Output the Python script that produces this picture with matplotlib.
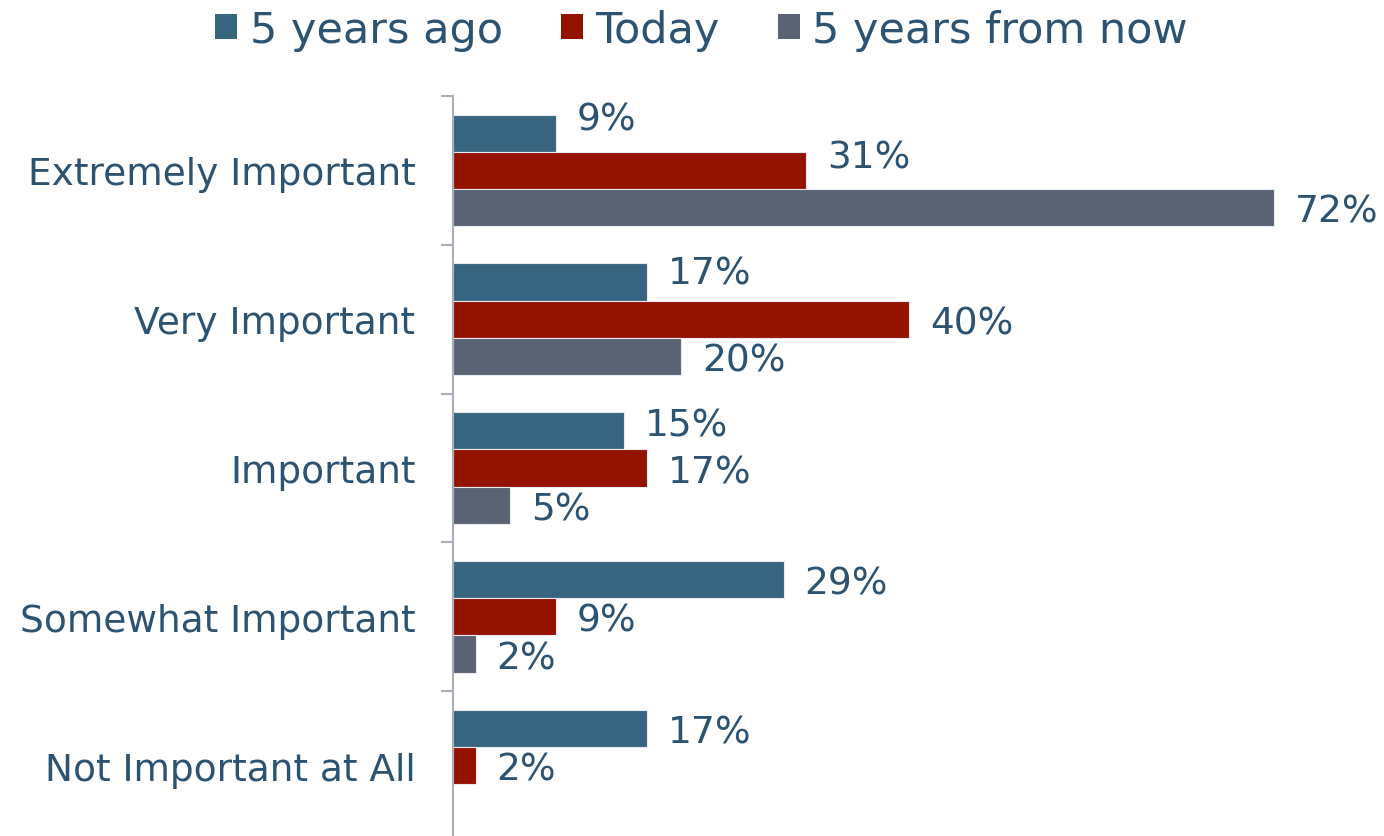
import matplotlib
matplotlib.use("Agg")
import matplotlib.pyplot as plt
from matplotlib.patches import Patch
import numpy as np

categories = ["Extremely Important", "Very Important", "Important",
              "Somewhat Important", "Not Important at All"]
series_names = ["5 years ago", "Today", "5 years from now"]
years_ago = [9, 17, 15, 29, 17]
today = [31, 40, 17, 9, 2]
years_ahead = [72, 20, 5, 2, np.nan]

colors = ["#37647F", "#931200", "#5A6374"]
text_color = "#2D5372"
spine_color = "#A7AFBA"

# a few labels sit nudged upward (points), keyed by (category, series)
label_nudge = {(0, 0): 13, (0, 1): 12, (1, 0): 9, (2, 0): 7}

fig = plt.figure(figsize=(13.84, 8.37), dpi=100)
ax = fig.add_axes([453 / 1384, -4 / 837, 931 / 1384, 744 / 837])

bar_h = 0.25
y = np.arange(len(categories))
for j, vals in enumerate([years_ago, today, years_ahead]):
    pos = y - bar_h + j * bar_h
    ax.barh(pos, vals, height=bar_h, color=colors[j],
            edgecolor="#E8EAEE", linewidth=0.8)
    for i, v in enumerate(vals):
        if np.isnan(v):
            continue
        ax.annotate(f"{v:.0f}%", (v, pos[i]), xytext=(15, label_nudge.get((i, j), 0) - 3),
                    textcoords="offset points", va="center", ha="left",
                    fontsize=27, color=text_color)

ax.set_xlim(0, 931 / 11.4)
ax.set_ylim(len(categories) - 0.5, -0.5)

# category boundaries as major ticks, names as minor ticks
ax.set_yticks(np.arange(len(categories) + 1) - 0.5)
ax.set_yticklabels([])
ax.set_yticks(y, minor=True)
ax.set_yticklabels(categories, minor=True, fontsize=27, color=text_color)
ax.tick_params(axis="y", which="major", length=9, width=1.5, color=spine_color)
ax.tick_params(axis="y", which="minor", length=0, pad=27)
ax.set_xticks([])

for s in ["top", "right", "bottom"]:
    ax.spines[s].set_visible(False)
ax.spines["left"].set_color(spine_color)
ax.spines["left"].set_linewidth(1.5)

handles = [Patch(facecolor=c, edgecolor="none") for c in colors]
leg = fig.legend(handles, series_names, loc="center", bbox_to_anchor=(0.507, 1 - 31 / 837),
                 ncol=3, frameon=False, fontsize=31, handlelength=0.5, handleheight=0.5,
                 handletextpad=0.3, columnspacing=1.35, borderpad=0)
for t in leg.get_texts():
    t.set_color(text_color)

fig.savefig("out.png", dpi=100)
